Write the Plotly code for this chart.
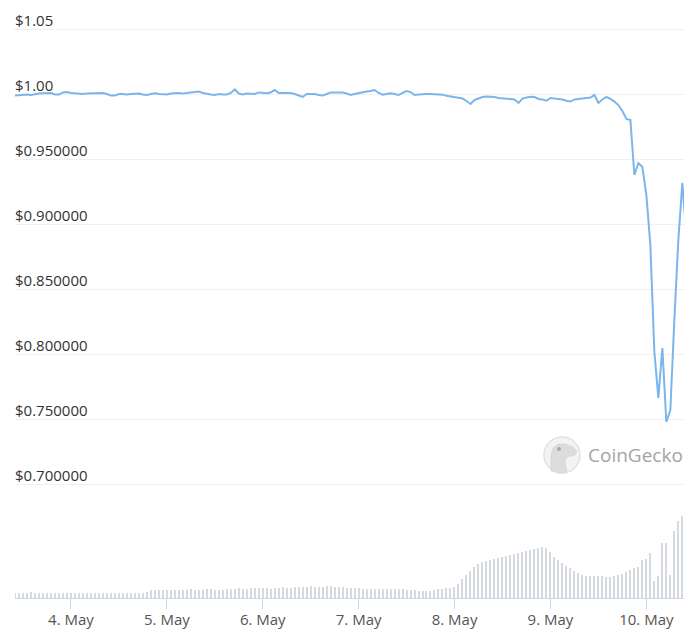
import pandas as pd
import plotly.graph_objects as go

# ---- data (hourly, 3 May 10:00 -> 10 May 10:00) ----
start_time = "2022-05-03 10:00"
n_points = 169

price = [
    0.9988, 0.9992, 0.9996, 0.9996, 0.9992, 1.0000, 1.0004, 1.0005, 1.0008, 1.0008,
    0.9996, 0.9996, 1.0012, 1.0015, 1.0008, 1.0004, 1.0000, 1.0000, 1.0004, 1.0004,
    1.0005, 1.0004, 1.0008, 1.0000, 0.9988, 0.9988, 1.0000, 1.0000, 0.9996, 1.0000,
    1.0000, 1.0004, 0.9996, 0.9992, 1.0000, 1.0005, 1.0000, 0.9996, 0.9996, 1.0004,
    1.0008, 1.0008, 1.0004, 1.0008, 1.0012, 1.0015, 1.0019, 1.0008, 1.0000, 0.9996,
    0.9992, 1.0000, 0.9996, 0.9996, 1.0008, 1.0035, 1.0004, 0.9996, 1.0004, 1.0000,
    1.0000, 1.0012, 1.0008, 1.0005, 1.0012, 1.0031, 1.0008, 1.0008, 1.0012, 1.0008,
    1.0000, 0.9988, 0.9977, 1.0000, 1.0000, 1.0000, 0.9992, 0.9988, 1.0000, 1.0012,
    1.0012, 1.0012, 1.0012, 1.0004, 0.9992, 1.0000, 1.0008, 1.0013, 1.0019, 1.0023,
    1.0031, 1.0008, 0.9995, 1.0000, 1.0005, 1.0000, 0.9992, 1.0008, 1.0023, 1.0015,
    0.9992, 0.9996, 1.0000, 1.0000, 1.0000, 1.0000, 0.9996, 0.9995, 0.9987, 0.9981,
    0.9975, 0.9973, 0.9965, 0.9946, 0.9923, 0.9954, 0.9965, 0.9977, 0.9981, 0.9981,
    0.9977, 0.9969, 0.9965, 0.9962, 0.9962, 0.9958, 0.9931, 0.9965, 0.9973, 0.9979,
    0.9977, 0.9962, 0.9958, 0.9948, 0.9969, 0.9965, 0.9962, 0.9958, 0.9948, 0.9942,
    0.9958, 0.9962, 0.9962, 0.9965, 0.9973, 0.9992, 0.9931, 0.9958, 0.9977, 0.9962,
    0.9942, 0.9915, 0.9869, 0.9808, 0.9800, 0.9377, 0.9469, 0.9438, 0.9223, 0.8838,
    0.8015, 0.7662, 0.8046, 0.7477, 0.7569, 0.8262, 0.8877, 0.9315, 0.8915,
]

volume_musd = [
    330, 330, 300, 330, 360, 330, 300, 300, 330, 330, 300, 330, 330, 300,
    300, 300, 330, 300, 300, 330, 330, 300, 300, 330, 300, 300, 330, 300, 330, 330, 300, 300, 330, 360,
    480, 510, 480, 480, 510, 480, 480, 510, 480, 510, 540, 510, 480, 510, 540, 540, 510, 480, 510, 540,
    540, 570, 600, 570, 570, 600, 600, 630, 600, 600, 570, 600, 630, 660, 630, 600, 660, 690, 660, 690,
    720, 660, 660, 690, 720, 750, 690, 660, 660, 630, 600,
    600, 600, 570, 570, 540, 570, 570, 540, 540, 570, 540, 540, 540, 510, 510, 480, 450, 420, 420, 450,
    480, 540, 570, 600, 630,
    660, 840, 1140, 1380, 1620, 1860, 2040, 2160, 2220, 2280, 2340, 2400, 2460, 2520, 2580, 2640, 2700,
    2760, 2820, 2880, 2940, 3000, 3060, 3000, 2760, 2460, 2280, 2100, 1920, 1800, 1620, 1500, 1380, 1320,
    1320, 1320, 1320, 1320, 1290, 1260, 1320, 1380, 1440, 1560, 1680, 1800, 1860, 2280, 2340, 2700, 1020,
    1320, 3300, 3300, 1380, 4020, 4620, 4920, 4980,
]

y_tick_values = [0.70, 0.75, 0.80, 0.85, 0.90, 0.95, 1.00, 1.05]
y_tick_labels = ["$0.700000", "$0.750000", "$0.800000", "$0.850000",
                 "$0.900000", "$0.950000", "$1.00", "$1.05"]

x_tick_days = ["2022-05-04", "2022-05-05", "2022-05-06", "2022-05-07",
               "2022-05-08", "2022-05-09", "2022-05-10"]
x_tick_labels = ["4. May", "5. May", "6. May", "7. May", "8. May", "9. May", "10. May"]

times = pd.date_range(start_time, periods=n_points, freq="h")

# ---- figure (page body has an 8px margin, so the figure is 8px smaller) ----
OFF = 8
W, H = 692 - OFF, 636 - OFF
ML, MR, MT, MB = 15 - OFF, 5, 0, 38
PW, PH = W - ML - MR, H - MT - MB
TOP_WIN = OFF + MT          # window y of plot top
BOT_WIN = OFF + H - MB      # window y of plot bottom (598)


def px(x, y):
    """window pixel -> paper coords (watermark decoration only)"""
    return (x - OFF - ML) / PW, (BOT_WIN - y) / PH


x_range = [times[0], times[-1] + pd.Timedelta(minutes=10)]

fig = go.Figure()

# price line: x / y (y carries the inside "$" labels; x carries no labels)
fig.add_trace(go.Scatter(
    x=times, y=price, mode="lines", xaxis="x", yaxis="y",
    line=dict(color="#7cb5ec", width=2),
    showlegend=False,
))

# volume bars: overlay subplot x2 / y2 (x2 carries the date labels)
fig.add_trace(go.Bar(
    x=times, y=volume_musd, xaxis="x2", yaxis="y2",
    marker=dict(color="#d5d9e0", line_width=0),
    width=1080000, hoverinfo="skip", showlegend=False,
))

# CoinGecko watermark
cx0, cy0 = px(544, 473)
cx1, cy1 = px(580, 437)
shapes = [dict(type="circle", xref="paper", yref="paper",
               x0=cx0, y0=cy0, x1=cx1, y1=cy1,
               fillcolor="#f3f3f3", line=dict(color="#e2e2e2", width=1.5), layer="above")]
head = [(551, 471), (551, 455), (553, 448), (558, 444), (566, 444), (573, 447), (577, 451),
        (575, 455), (567, 457), (565, 462), (567, 472), (559, 473)]
pth = "M " + " L ".join("%.4f,%.4f" % px(a, b) for a, b in head) + " Z"
shapes.append(dict(type="path", xref="paper", yref="paper", path=pth,
                   fillcolor="#dcdcdc", line=dict(color="#d0d0d0", width=0.5), layer="above"))
ex0, ey0 = px(557, 451)
ex1, ey1 = px(561, 447)
shapes.append(dict(type="circle", xref="paper", yref="paper", x0=ex0, y0=ey0, x1=ex1, y1=ey1,
                   fillcolor="#a8a8a8", line_width=0, layer="above"))

tx, ty = px(586, 455)

# price axis: 65 px per 0.05, $1.00 gridline at window y=94
y_top = 1 + (94 - TOP_WIN) / 1300
y_bot = 1 - (BOT_WIN - 94) / 1300

fig.update_layout(
    width=W, height=H,
    margin=dict(l=ML, r=MR, t=MT, b=MB, autoexpand=False),
    paper_bgcolor="white", plot_bgcolor="white",
    font=dict(family="Open Sans", color="#333333"),
    bargap=0,
    xaxis=dict(
        type="date", range=x_range, anchor="y",
        showticklabels=False, ticks="", showline=False,
        showgrid=False, zeroline=False,
    ),
    xaxis2=dict(
        type="date", range=x_range, overlaying="x", anchor="y2", side="bottom",
        tickvals=x_tick_days, ticktext=x_tick_labels,
        ticks="outside", ticklen=10, tickcolor="#ccd6eb", tickwidth=1,
        ticklabelstandoff=-2,
        showline=True, linecolor="#ccd6eb", linewidth=1,
        showgrid=False, zeroline=False,
        tickfont=dict(size=15, color="#555555"),
    ),
    yaxis=dict(
        range=[y_bot, y_top], anchor="x",
        tickvals=y_tick_values, ticktext=y_tick_labels,
        ticklabelposition="inside top",
        ticklabelstandoff=-3, ticklabelshift=2,
        showgrid=True, gridcolor="#f0f0f0", gridwidth=1,
        zeroline=False, showline=False, ticks="",
        tickfont=dict(size=15, color="#333333"),
    ),
    yaxis2=dict(
        overlaying="y", anchor="x2", range=[0, 60 * PH], visible=False,
        showgrid=False, zeroline=False,
    ),
    shapes=shapes,
    annotations=[dict(x=tx, y=ty, xref="paper", yref="paper", text="CoinGecko",
                      showarrow=False, xanchor="left", yanchor="middle",
                      font=dict(family="Open Sans", size=19, color="#a4a4a4"))],
)

fig.write_html("out.html")
